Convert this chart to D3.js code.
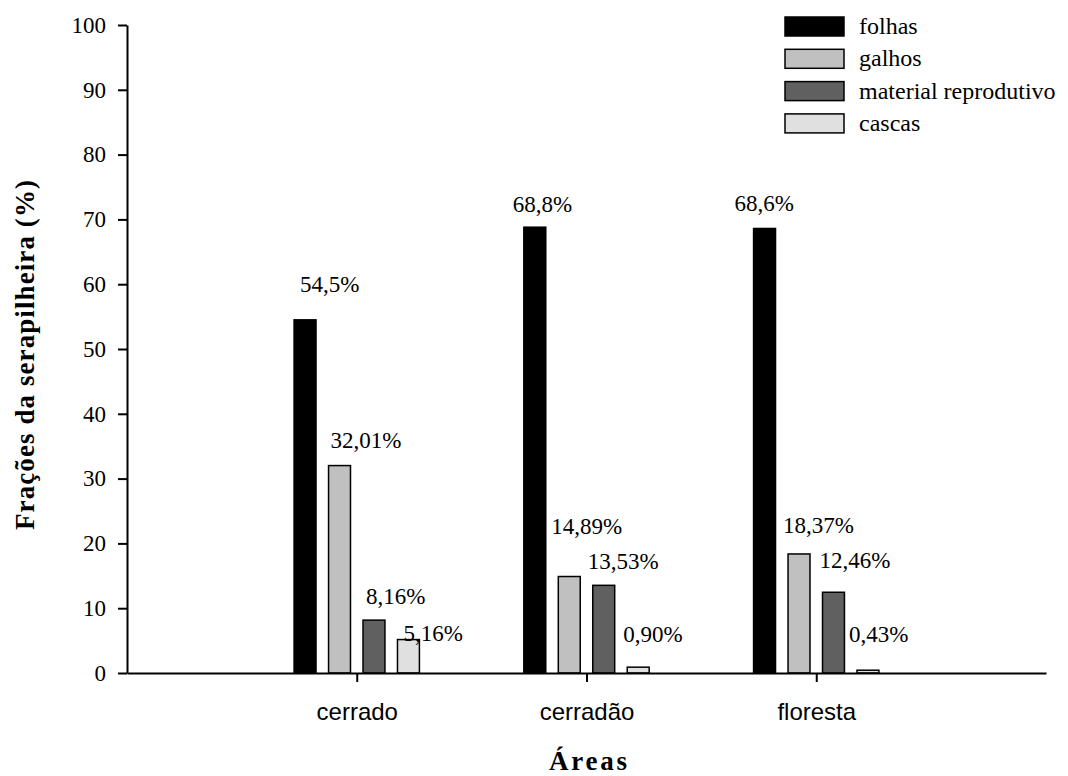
<!DOCTYPE html>
<html>
<head>
<meta charset="utf-8">
<script src="https://cdn.jsdelivr.net/npm/d3@7"></script>
<style>
  body { margin: 0; background: #fff; }
  svg { display: block; }
</style>
</head>
<body>
<svg id="chart" width="1068" height="776"></svg>
<script>
// ---- data ----
const categories = ["cerrado", "cerradão", "floresta"];
const seriesNames = ["folhas", "galhos", "material reprodutivo", "cascas"];
const folhas = [54.5, 68.8, 68.6];
const galhos = [32.01, 14.89, 18.37];
const materialReprodutivo = [8.16, 13.53, 12.46];
const cascas = [5.16, 0.90, 0.43];
const seriesDecimals = [1, 2, 2, 2];
const yTicks = [0, 10, 20, 30, 40, 50, 60, 70, 80, 90, 100];

// ---- styles ----
const seriesColors = ["#000000", "#c0c0c0", "#606060", "#e0e0e0"];
// manual label placement (px): [dx from bar left, dy of baseline from bar top]
const labelOffsets = [
  [[6, -28], [2, -18], [3, -16], [6, 1]],
  [[-11, -15], [-7, -43], [-5, -16], [-4, -25]],
  [[-19, -17], [-5, -21], [-3, -24], [-8, -28]]
];
const SERIF = '"Liberation Serif", "Times New Roman", serif';
const SANS = '"Liberation Sans", Arial, sans-serif';

const seriesValues = [folhas, galhos, materialReprodutivo, cascas];
const svg = d3.select("#chart");

const x = d3.scaleLinear().domain([0, 4]).range([127, 1046]);
const y = d3.scaleLinear().domain([0, 100]).range([673, 25]);

const step = x(0.15) - x(0);
const barW = x(0.0955) - x(0);

// bars
const bars = [];
seriesValues.forEach((vals, s) => {
  vals.forEach((v, c) => {
    const cx = x(c + 1) + (s - 1.5) * step;
    bars.push({ s, c, v, left: cx - barW / 2 });
  });
});

svg.append("g").selectAll("rect").data(bars).join("rect")
  .attr("x", d => d.left)
  .attr("y", d => y(d.v))
  .attr("width", barW)
  .attr("height", d => y(0) - y(d.v))
  .attr("fill", d => seriesColors[d.s])
  .attr("stroke", "#000")
  .attr("stroke-width", 1.5);

// value labels
svg.append("g").selectAll("text").data(bars).join("text")
  .style("font-family", SERIF)
  .style("font-size", "23px")
  .attr("x", d => d.left + labelOffsets[d.c][d.s][0])
  .attr("y", d => y(d.v) + labelOffsets[d.c][d.s][1])
  .attr("fill", "#000")
  .text(d => d.v.toFixed(seriesDecimals[d.s]).replace(".", ",") + "%");

// y axis
const yAxis = svg.append("g")
  .attr("transform", `translate(${x(0)},0)`)
  .call(d3.axisLeft(y).tickValues(yTicks).tickSize(9).tickSizeOuter(0).tickPadding(12));
yAxis.select(".domain").attr("stroke-width", 2);
yAxis.selectAll(".tick line").attr("stroke-width", 2);
yAxis.selectAll(".tick text")
  .style("font-family", SERIF).style("font-size", "23px").attr("fill", "#000");

// x axis
const xAxis = svg.append("g")
  .attr("transform", `translate(0,${y(0)})`)
  .call(d3.axisBottom(x).tickValues([1, 2, 3]).tickSize(9).tickSizeOuter(0)
    .tickFormat(d => categories[d - 1]));
xAxis.select(".domain").attr("stroke-width", 2);
xAxis.selectAll(".tick line").attr("stroke-width", 2);
xAxis.selectAll(".tick text")
  .attr("y", 47).attr("dy", 0)
  .style("font-family", SANS).style("font-size", "24px").attr("fill", "#000");

// axis titles
svg.append("text")
  .attr("transform", "translate(34,355) rotate(-90)")
  .attr("text-anchor", "middle")
  .style("font-family", SERIF).style("font-weight", "bold").style("font-size", "27px")
  .attr("textLength", 350).attr("lengthAdjust", "spacing")
  .text("Frações da serapilheira (%)");

svg.append("text")
  .attr("x", 588).attr("y", 770)
  .attr("text-anchor", "middle")
  .style("font-family", SERIF).style("font-weight", "bold").style("font-size", "27px")
  .attr("textLength", 78).attr("lengthAdjust", "spacing")
  .text("Áreas");

// legend
const legend = svg.append("g").attr("transform", "translate(785,17)");
const li = legend.selectAll("g").data(seriesNames).join("g")
  .attr("transform", (d, i) => `translate(0,${i * 32.3})`);
li.append("rect")
  .attr("width", 59).attr("height", 19)
  .attr("fill", (d, i) => seriesColors[i])
  .attr("stroke", "#000").attr("stroke-width", 1.5);
li.append("text")
  .attr("x", 74).attr("y", 17)
  .style("font-family", SERIF).style("font-size", "24px").attr("fill", "#000")
  .text(d => d);
</script>
</body>
</html>
